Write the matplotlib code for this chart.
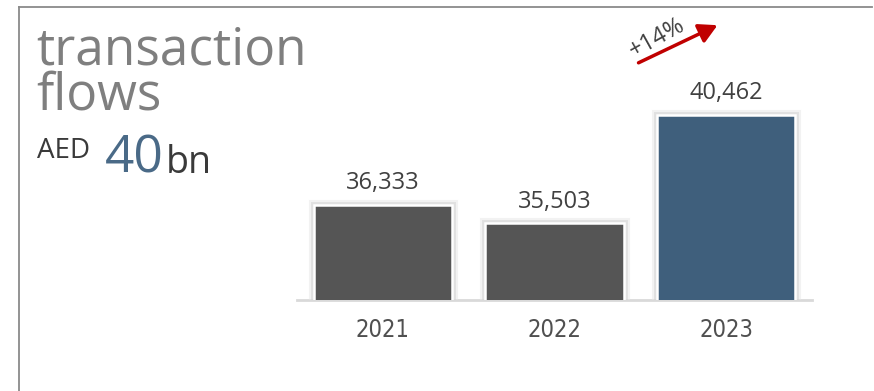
import matplotlib
matplotlib.use("Agg")
import matplotlib.pyplot as plt
import matplotlib.patheffects as pe
from matplotlib.lines import Line2D
from matplotlib.patches import FancyArrowPatch

years = ["2021", "2022", "2023"]
flows = [36333, 35503, 40462]
bar_colors = ["#555555", "#555555", "#3f5f7c"]
growth_label = "+14%"

W, H = 874, 391
fig = plt.figure(figsize=(W / 100, H / 100), dpi=100)
plt.rcParams["font.family"] = ["Open Sans", "DejaVu Sans"]


def fx(px):
    return px / W


def fy(py):
    return 1 - py / H


# panel frame: top and left edges only
fig.add_artist(Line2D([fx(19), fx(872)], [fy(7), fy(7)], color="#8a8a8a", lw=1.3))
fig.add_artist(Line2D([fx(19), fx(19)], [fy(7), fy(391)], color="#8a8a8a", lw=1.3))

# headline block
fig.text(fx(36), fy(110), "transaction\nflows", fontsize=37, color="#7f7f7f",
         va="baseline", linespacing=0.87)
fig.text(fx(37), fy(158), "AED", fontsize=20, color="#3a3a3a", va="baseline")
fig.text(fx(105), fy(173), "40", fontsize=37, color="#4a6a87", va="baseline")
fig.text(fx(166), fy(173), "bn", fontsize=27, color="#3a3a3a", va="baseline")

# bar chart
ax = fig.add_axes([fx(297), fy(300), fx(812) - fx(297), fy(20) - fy(300)])
ax.set_xlim(-0.5, 2.5)
ax.set_ylim(32000, 44800)
x = range(len(years))
bars = ax.bar(x, flows, width=0.805, color=bar_colors, edgecolor="white",
              linewidth=1.8, zorder=3)
for b in bars:
    b.set_path_effects([pe.Stroke(linewidth=8, foreground="#e6e6e6", alpha=0.5),
                        pe.Stroke(linewidth=5, foreground="#d0d0d0", alpha=0.5),
                        pe.Normal()])
for xi, v in zip(x, flows):
    ax.annotate(f"{v:,}", (xi, v), xytext=(0, 7), textcoords="offset points",
                ha="center", va="bottom", fontsize=17, color="#404040")

for s in ["top", "right", "left"]:
    ax.spines[s].set_visible(False)
ax.spines["bottom"].set_color("#d9d9d9")
ax.spines["bottom"].set_linewidth(2)
ax.spines["bottom"].set_zorder(2)
ax.set_yticks([])
ax.set_xticks(list(x))
ax.set_xticklabels(years, fontsize=17, color="#505050", family="DejaVu Sans",
                   fontstretch="condensed")
ax.tick_params(axis="x", length=0, pad=13)
ax.patch.set_visible(False)

# growth arrow
fig.add_artist(FancyArrowPatch(
    (fx(636), fy(64)), (fx(720), fy(24)), transform=fig.transFigure,
    arrowstyle="-|>,head_length=11,head_width=6", color="#c00000", lw=2.5))
fig.text(fx(657), fy(38), growth_label, fontsize=17, color="#404040",
         rotation=29, ha="center", va="center")

fig.savefig("out.png", dpi=100)
